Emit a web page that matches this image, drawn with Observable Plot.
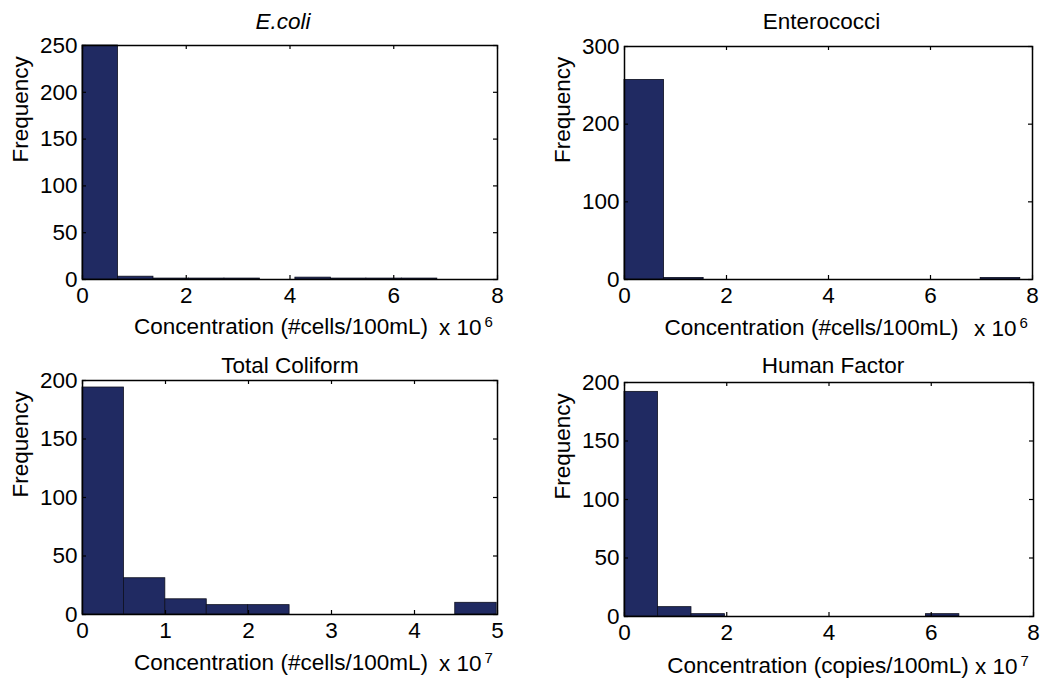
<!DOCTYPE html>
<html>
<head>
<meta charset="utf-8">
<script src="https://cdn.jsdelivr.net/npm/d3@7"></script>
<script src="https://cdn.jsdelivr.net/npm/@observablehq/plot@0.6"></script>
<style>
  body { margin: 0; background: #fff; }
  #fig { position: relative; width: 1045px; height: 683px; background: #fff; overflow: hidden; }
  #fig svg { position: absolute; overflow: visible; }
</style>
</head>
<body>
<div id="fig"></div>
<script>
// Histogram counts, 10 equal-width bins per indicator
const ecoliCounts       = [250, 3, 1, 1, 1, 0, 2, 1, 1, 1];
const enterococciCounts = [257, 2, 0, 0, 0, 0, 0, 0, 0, 2];
const coliformCounts    = [194, 31, 13, 8, 8, 0, 0, 0, 0, 10];
const humanCounts       = [192, 8, 2, 0, 0, 0, 0, 0, 0, 2];

// Bin widths, in units of each axis multiplier
const ecoliBinWidth = 0.684;       // x 10^6
const enterococciBinWidth = 0.776; // x 10^6
const coliformBinWidth = 0.499;    // x 10^7
const humanBinWidth = 0.655;       // x 10^7

// Tick values
const ecoliXTicks = [0, 2, 4, 6, 8];
const ecoliYTicks = [0, 50, 100, 150, 200, 250];
const enterococciXTicks = [0, 2, 4, 6, 8];
const enterococciYTicks = [0, 100, 200, 300];
const coliformXTicks = [0, 1, 2, 3, 4, 5];
const coliformYTicks = [0, 50, 100, 150, 200];
const humanXTicks = [0, 2, 4, 6, 8];
const humanYTicks = [0, 50, 100, 150, 200];

// Text
const titles = ["E.coli", "Enterococci", "Total Coliform", "Human Factor"];
const xLabels = [
  "Concentration (#cells/100mL)",
  "Concentration (#cells/100mL)",
  "Concentration (#cells/100mL)",
  "Concentration (copies/100mL)"
];
const multiplier = "x 10";
const exponents = ["6", "6", "7", "7"];
const yLabel = "Frequency";

const FONT = "'Liberation Sans', Arial, Helvetica, sans-serif";
const BAR = "#202a62";
const FS = 22.5;

function panel(o) {
  const bins = o.counts.map((count, i) => ({x1: i * o.binWidth, x2: (i + 1) * o.binWidth, count}));
  const fw = o.width - o.ml - o.mr;
  const fh = o.height - o.mt - o.mb;
  const tick = 4;
  return Plot.plot({
    width: o.width,
    height: o.height,
    marginLeft: o.ml, marginRight: o.mr, marginTop: o.mt, marginBottom: o.mb,
    x: {domain: o.xDomain, label: null},
    y: {domain: o.yDomain, label: null},
    style: {fontFamily: FONT, fontSize: FS + "px", color: "black", background: "white",
            left: o.left + "px", top: o.top + "px"},
    marks: [
      Plot.rect(bins, {x1: "x1", x2: "x2", y1: 0, y2: "count", fill: BAR, stroke: "#0d0f1e", strokeWidth: 0.8}),
      Plot.frame({stroke: "black", strokeWidth: 1.5}),
      // inward ticks on all four sides of the box
      Plot.ruleX(o.xTicks, {x: d => d, insetTop: fh - tick, stroke: "black", strokeWidth: 1.2}),
      Plot.ruleX(o.xTicks, {x: d => d, insetBottom: fh - tick, stroke: "black", strokeWidth: 1.2}),
      Plot.ruleY(o.yTicks, {y: d => d, insetRight: fw - tick, stroke: "black", strokeWidth: 1.2}),
      Plot.ruleY(o.yTicks, {y: d => d, insetLeft: fw - tick, stroke: "black", strokeWidth: 1.2}),
      Plot.axisX({ticks: o.xTicks, tickSize: 0, tickPadding: 8, fontSize: FS, label: null, tickFormat: d => String(d)}),
      Plot.axisY({ticks: o.yTicks, tickSize: 0, tickPadding: 5, fontSize: FS, label: null, tickFormat: d => String(d)}),
      Plot.text([o.title], {text: d => d, frameAnchor: "top", lineAnchor: "bottom",
        dx: o.titleDx, dy: o.titleDy, fontSize: FS, fontStyle: o.italic ? "italic" : "normal", fill: "black"}),
      Plot.text([yLabel], {text: d => d, frameAnchor: "left", rotate: -90, lineAnchor: "bottom",
        dx: -55, fontSize: FS, fill: "black"}),
      Plot.text([o.xLabel], {text: d => d, frameAnchor: "bottom", lineAnchor: "bottom",
        dx: o.labelDx, dy: o.labelDy, fontSize: FS, fill: "black"}),
      Plot.text([multiplier], {text: d => d, frameAnchor: "bottom-right", textAnchor: "end", lineAnchor: "bottom",
        dx: -16, dy: o.labelDy + 1, fontSize: FS, fill: "black"}),
      Plot.text([o.exponent], {text: d => d, frameAnchor: "bottom-right", textAnchor: "start", lineAnchor: "bottom",
        dx: -13, dy: o.labelDy - 7, fontSize: 15, fill: "black"})
    ]
  });
}

const fig = document.getElementById("fig");

fig.append(panel({
  left: 0, top: 0, width: 522, height: 341, ml: 82, mr: 25, mt: 45, mb: 62,
  counts: ecoliCounts, binWidth: ecoliBinWidth, xDomain: [0, 8], yDomain: [0, 250],
  xTicks: ecoliXTicks, yTicks: ecoliYTicks,
  title: titles[0], italic: true, titleDx: -7, titleDy: -17,
  xLabel: xLabels[0], labelDx: -9, labelDy: 54, exponent: exponents[0]
}));

fig.append(panel({
  left: 522, top: 0, width: 523, height: 341, ml: 102, mr: 13, mt: 46, mb: 62,
  counts: enterococciCounts, binWidth: enterococciBinWidth, xDomain: [0, 8], yDomain: [0, 300],
  xTicks: enterococciXTicks, yTicks: enterococciYTicks,
  title: titles[1], italic: false, titleDx: -7, titleDy: -18,
  xLabel: xLabels[1], labelDx: -17, labelDy: 55, exponent: exponents[1]
}));

fig.append(panel({
  left: 0, top: 341, width: 522, height: 342, ml: 82, mr: 25, mt: 39, mb: 69,
  counts: coliformCounts, binWidth: coliformBinWidth, xDomain: [0, 5], yDomain: [0, 200],
  xTicks: coliformXTicks, yTicks: coliformYTicks,
  title: titles[2], italic: false, titleDx: 0, titleDy: -8,
  xLabel: xLabels[2], labelDx: -9, labelDy: 55, exponent: exponents[2]
}));

fig.append(panel({
  left: 522, top: 341, width: 523, height: 342, ml: 102, mr: 12, mt: 41, mb: 67,
  counts: humanCounts, binWidth: humanBinWidth, xDomain: [0, 8], yDomain: [0, 200],
  xTicks: humanXTicks, yTicks: humanYTicks,
  title: titles[3], italic: false, titleDx: 4, titleDy: -10,
  xLabel: xLabels[3], labelDx: -11, labelDy: 56, exponent: exponents[3]
}));
</script>
</body>
</html>
